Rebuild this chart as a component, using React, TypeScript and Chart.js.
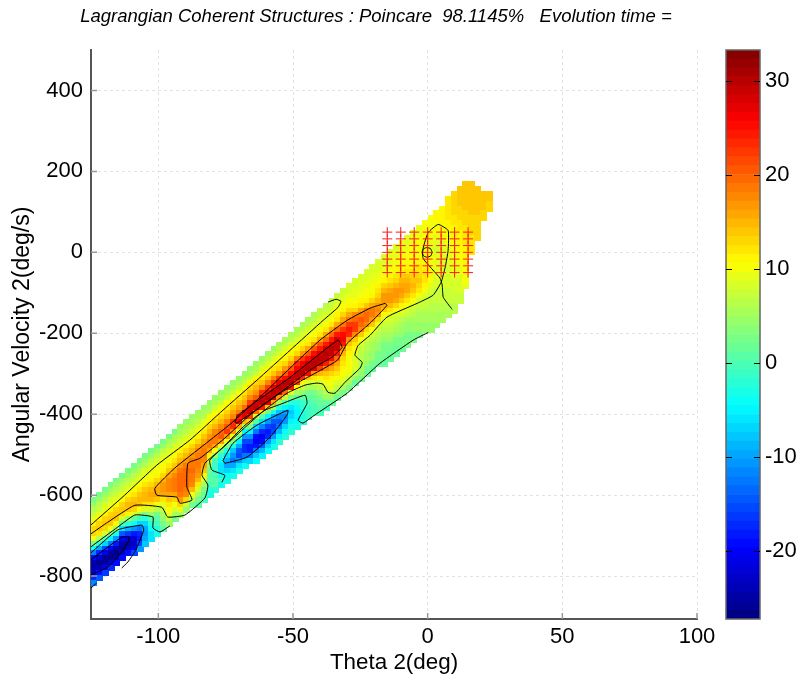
import React, { useEffect, useRef } from "react";
import { Chart, registerables } from "chart.js";

Chart.register(...registerables);

const chartTitle = "Lagrangian Coherent Structures : Poincare  98.1145%   Evolution time =";
const xAxisTitle = "Theta 2(deg)";
const yAxisTitle = "Angular Velocity 2(deg/s)";
const xTicks = [-100, -50, 0, 50, 100];
const yTicks = [-800, -600, -400, -200, 0, 200, 400];
const colorTicks = [-20, -10, 0, 10, 20, 30];
const colorMin = -27.2;
const colorMax = 33.3;
const rowStep = 12;

const thetaColumns = [-124, -121.8, -119.7, -117.5, -115.4, -113.2, -111, -108.9, -106.7, -104.6, -102.4, -100.2, -98.1, -95.9, -93.8, -91.6, -89.4, -87.3, -85.1, -83, -80.8, -78.6, -76.5, -74.3, -72.2, -70, -67.8, -65.7, -63.5, -61.4, -59.2, -57, -54.9, -52.7, -50.6, -48.4, -46.2, -44.1, -41.9, -39.8, -37.6, -35.4, -33.3, -31.1, -29, -26.8, -24.6, -22.5, -20.3, -18.2, -16, -13.8, -11.7, -9.5, -7.4, -5.2, -3, -0.9, 1.3, 3.4, 5.6, 7.8, 9.9, 12.1, 14.2, 16.4, 18.6, 20.7, 22.9];

const columnTopOmega = [-612, -600, -588, -576, -564, -552, -540, -528, -516, -504, -492, -480, -468, -456, -444, -432, -420, -408, -396, -384, -372, -360, -348, -336, -324, -312, -300, -288, -276, -264, -252, -240, -228, -216, -204, -192, -180, -168, -156, -144, -132, -120, -108, -96, -84, -72, -60, -48, -36, -24, -12, 0, 12, 24, 36, 48, 60, 72, 84, 96, 108, 132, 144, 156, 168, 168, 156, 144, 144];

// each column of the field, read from its top cell downwards
const fieldColumns = [
[3,4,6,7,9,11,13,13,10,3,-4,-12,-19,-24,-25,-22,-17,-12],
[3,4,6,7,9,11,13,14,12,6,-2,-10,-17,-23,-26,-24,-19,-14],
[3,4,6,8,9,11,13,14,13,8,1,-7,-15,-21,-26,-26,-21,-16],
[3,4,6,8,9,11,13,14,14,10,3,-5,-13,-20,-25,-27,-23,-17],
[3,4,6,7,9,10,13,14,14,11,5,-3,-11,-18,-24,-27,-25,-19],
[3,4,6,7,9,10,13,14,13,8,1,-6,-14,-20,-25,-26,-24,-19],
[3,4,6,7,9,11,13,15,14,11,5,-2,-9,-16,-22,-25,-24,-19],
[3,4,6,7,9,10,12,14,15,13,8,2,-4,-11,-18,-22,-23,-20,-15],
[3,4,6,8,9,10,12,14,15,14,10,5,-1,-7,-13,-17,-18,-15,-11],
[3,4,6,8,9,10,12,14,15,15,12,8,3,-2,-7,-10,-11,-10,-8],
[3,4,6,8,9,10,11,13,15,16,15,12,8,4,1,-2,-4,-6,-6],
[3,4,6,8,9,10,11,13,15,16,16,14,10,6,3,1,0,-2,-3],
[3,4,6,8,9,10,11,13,15,17,17,16,12,9,7,5,4,3,1],
[3,5,6,8,9,10,12,14,16,18,18,18,16,14,12,10,9,7,4],
[3,5,6,8,9,10,12,14,16,18,19,19,19,16,13,10,8,5,3],
[4,5,6,8,9,11,13,15,17,19,20,20,20,20,19,17,13,9,5],
[4,5,6,8,9,11,13,15,17,19,20,20,20,20,19,18,13,8,4],
[4,5,6,8,9,11,13,15,17,19,19,20,19,19,18,15,10,6,3],
[4,5,6,8,10,11,13,16,18,19,19,19,18,17,15,12,8,5,3,1],
[4,5,6,9,10,12,14,16,18,19,19,18,16,14,11,8,5,3,2,0],
[4,5,6,10,11,13,15,17,19,19,16,11,7,4,2,1,1,0,-2,-3],
[4,5,7,10,11,13,15,18,19,19,16,10,4,0,-1,-1,0,1,1,-2],
[4,5,7,10,11,13,15,18,20,21,17,9,3,-2,-4,-6,-6,-3,-1,-3],
[4,5,7,10,11,13,15,18,21,22,17,9,3,-2,-6,-9,-10,-7,-4,-3],
[4,5,7,10,12,14,16,18,22,23,17,9,3,-3,-8,-11,-13,-10,-6,-3],
[4,5,7,10,12,14,16,19,24,26,16,8,2,-5,-10,-14,-15,-11,-6,-3],
[4,5,7,10,12,14,16,20,27,27,15,5,-5,-11,-15,-17,-17,-13,-8,-4],
[4,5,7,11,13,15,18,22,28,29,22,12,3,-5,-11,-15,-18,-18,-13,-7],
[4,5,7,11,13,15,17,21,28,29,20,8,0,-7,-13,-19,-20,-18,-13,-8,-4],
[4,6,8,11,12,14,18,23,28,30,24,12,1,-6,-12,-17,-20,-19,-14,-9,-5],
[4,6,8,11,12,14,18,22,27,30,27,14,3,-5,-11,-15,-18,-17,-11,-7,-4],
[4,6,8,10,12,14,18,22,27,30,28,16,4,-3,-10,-14,-16,-15,-11,-6,-3],
[5,6,8,10,12,13,17,22,27,30,28,17,5,-2,-8,-12,-14,-13,-9,-5,-2],
[5,6,8,10,11,13,17,21,25,30,29,20,7,1,-5,-10,-12,-11,-7,-4,-2],
[5,6,8,10,11,13,17,21,25,29,30,24,9,3,-2,-6,-8,-7,-5,-3,-2],
[5,6,8,9,11,13,18,23,26,29,29,22,10,5,1,-2,-4,-5,-5,-4,-3],
[5,6,8,9,11,13,17,22,26,29,30,23,11,7,4,1,-1,-2,-3,-3,-2],
[5,6,8,9,11,12,16,21,25,29,30,25,14,8,5,3,1,0,-1,-1,-1],
[5,6,8,9,10,12,16,21,25,29,30,28,17,12,8,5,3,2,1,0,0],
[6,7,8,9,10,12,16,21,24,28,30,29,22,15,11,8,6,4,3,2,1,0],
[6,7,8,9,10,12,16,20,24,28,30,29,24,18,14,12,10,8,6,4,2,0],
[6,7,8,9,10,12,16,20,24,28,30,29,25,20,16,13,11,10,9,7,4,2],
[7,8,9,10,11,12,16,20,24,28,29,29,24,20,16,14,12,10,8,7,4,2],
[7,8,9,10,11,13,16,19,22,25,26,24,18,15,13,12,11,10,9,8,5,3],
[8,8,9,10,11,13,16,19,22,24,23,17,14,12,11,10,10,10,9,7,5,3],
[8,8,9,9,10,11,13,18,20,22,22,18,14,12,11,9,8,9,8,6,4,2],
[8,8,9,9,10,11,12,16,19,21,20,18,14,10,8,7,6,6,6,5,4,3],
[8,8,9,9,10,10,11,14,19,20,20,18,13,10,8,6,6,5,5,4,3,2],
[8,8,9,9,10,10,11,13,16,19,19,17,14,10,8,6,5,5,4,4,3,2],
[8,8,9,9,10,11,12,13,15,17,18,17,13,9,7,6,5,4,4,3,3,2],
[8,8,9,9,10,11,13,15,17,17,16,14,11,8,7,6,5,4,3,3,3,2,2],
[8,9,9,9,10,11,12,14,16,17,17,15,12,9,8,7,6,5,4,3,3,2,2],
[8,9,9,10,10,11,12,13,15,17,17,16,13,10,8,7,6,5,4,3,3,2,2],
[9,9,9,10,10,10,11,13,15,16,17,16,14,11,9,8,6,5,4,4,3,3,2],
[9,9,9,10,10,10,11,12,14,15,16,16,14,12,10,8,7,5,4,4,3,3,3],
[9,9,9,10,10,10,10,11,12,13,14,15,14,12,10,8,7,6,5,4,4,3,3],
[9,9,10,10,10,10,10,11,12,12,13,14,13,12,10,8,7,6,5,5,4,4,3],
[10,10,10,10,10,10,10,10,11,11,12,12,12,11,10,8,7,7,6,5,5,4,4],
[10,10,10,10,10,9,9,9,10,10,10,11,11,10,9,8,7,7,6,6,5,5,4,4],
[11,11,10,10,10,9,9,8,8,9,9,9,9,9,8,8,7,7,7,6,6,5,5,4],
[11,11,11,11,10,10,9,8,8,8,8,8,8,8,8,8,8,7,7,7,6,6,5,5],
[12,12,12,12,12,11,11,10,10,10,9,9,9,9,8,8,8,8,8,7,7,7,6,6,5],
[13,13,13,13,13,12,12,11,11,11,10,10,10,9,9,9,9,9,8,8,8,7,7,6,6],
[14,14,14,14,13,13,13,12,12,11,11,11,11,10,10,10,9,9,9,8,8,8,7,7],
[14,14,14,14,14,14,13,13,13,12,12,12,12,11,11,11,11,10,10,10,10,9],
[14,14,14,14,14,14,14,13,13,13,13,12,12,12,12],
[14,14,14,14,14,14,13,13,13,13,13],
[14,14,14,14,13,13],
[14,14,13,13],
];

const plusTheta = [-15, -10, -5, 0, 5, 10, 15];
const plusOmega = [50, 33.3, 16.7, 0, -16.7, -33.3, -50];

type Pt = [number, number];
const contourUpper: Pt[] = [[-125.1,-674],[-112.5,-600],[-100.6,-526],[-88.3,-464],[-76,-390],[-63.4,-316],[-51.1,-242],[-38.8,-168],[-33.3,-136],[-32.2,-121],[-34,-116],[-37,-123]];
const contourRidge: Pt[] = [[-15.8,-126],[-21.4,-138],[-29.9,-168],[-40,-217],[-51.1,-286],[-62.3,-358],[-73.4,-425],[-82.7,-474],[-93.9,-533],[-101.3,-583],[-100.6,-600],[-93.1,-605],[-92,-620],[-87.5,-612],[-89.4,-580],[-89,-521],[-84.6,-509],[-75.3,-459],[-66,-402],[-54.8,-348],[-48.5,-323],[-33.6,-267],[-29.9,-225],[-21.4,-175],[-15.1,-131],[-15.8,-126]];
const contourPeak: Pt[] = [[-71.6,-420],[-70.4,-402],[-51.1,-309],[-33.3,-217],[-31.8,-235],[-35.5,-259],[-42.6,-286],[-53.7,-341],[-70.8,-422],[-71.6,-420]];
const contourTrough: Pt[] = [[-76,-514],[-72.3,-472],[-63.4,-427],[-51.9,-390],[-52.2,-402],[-58.6,-457],[-67.1,-506],[-75.3,-521],[-76,-514]];
const contourLong: Pt[] = [[-125.1,-696],[-118.8,-667],[-108.7,-625],[-98.7,-630],[-96.5,-654],[-90.1,-649],[-82.7,-607],[-81.6,-575],[-83.8,-551],[-82.7,-521],[-77.1,-489],[-69.7,-444],[-61.5,-395],[-52.2,-348],[-45.5,-328],[-41.1,-323],[-38.8,-326],[-37,-346],[-34.4,-348],[-30.7,-321],[-25.1,-286],[-24.3,-272],[-27,-254],[-25.8,-230],[-21.4,-205],[-15.1,-160],[-3.9,-126],[2,-106],[5,-74],[6.5,-37],[7.6,5],[7.6,54],[3.9,69],[0.2,49],[-1.7,10],[-1.7,-15],[4.6,-64],[5.4,-81],[5.8,-111],[9.1,-141]];
const contourLeftA: Pt[] = [[-125.1,-728],[-115.1,-679],[-108.7,-649],[-102,-654],[-102,-681],[-99.4,-691],[-95.7,-676]];
const contourLeftB: Pt[] = [[-125.1,-743],[-115.1,-686],[-106.1,-674],[-105.4,-686],[-108.4,-736],[-111.3,-765],[-113.6,-780]];
const contourLeftC: Pt[] = [[-125.1,-760],[-113.6,-704],[-110.6,-704],[-112.5,-731],[-118.8,-778],[-125.1,-797]];
const contourLower: Pt[] = [[-76.4,-568],[-75.3,-551],[-80.1,-538],[-80.9,-514],[-75.3,-477],[-67.8,-427],[-60.4,-390],[-53.7,-373],[-45.5,-353],[-44.8,-373],[-48.1,-415],[-46.3,-422],[-41.1,-398],[-29.9,-348],[-17.7,-274],[-5.4,-217],[0.2,-198]];
const contourCorner: Pt[] = [[-125.1,-830],[-122.9,-817]];
const contourCircle: Pt[] = [[1.7,0],[1.1,9],[-0.2,12],[-1.5,9],[-2.1,0],[-1.5,-9],[-0.2,-12],[1.1,-9],[1.7,0]];
const contours = [contourUpper, contourRidge, contourPeak, contourTrough, contourLong, contourLeftA, contourLeftB, contourLeftC, contourLower, contourCorner, contourCircle];

const LEVELS = 64;
const FONT = "'Liberation Sans', Arial, sans-serif";

function clamp01(v: number) {
  return Math.max(0, Math.min(1, v));
}
function jetColor(i: number) {
  const t = (i + 0.5) / LEVELS;
  const r = clamp01(Math.min(4 * t - 1.5, -4 * t + 4.5));
  const g = clamp01(Math.min(4 * t - 0.5, -4 * t + 3.5));
  const b = clamp01(Math.min(4 * t + 0.5, -4 * t + 2.5));
  return `rgb(${Math.round(r * 255)},${Math.round(g * 255)},${Math.round(b * 255)})`;
}
function levelOf(v: number) {
  const i = Math.floor(((v - colorMin) / (colorMax - colorMin)) * LEVELS);
  return Math.max(0, Math.min(LEVELS - 1, i));
}

const innerTicks = {
  id: "innerTicks",
  afterDatasetsDraw(chart: any) {
    const { ctx, chartArea, scales } = chart;
    ctx.save();
    ctx.strokeStyle = "#999999";
    ctx.lineWidth = 1.5;
    ctx.beginPath();
    xTicks.forEach((v) => {
      const px = scales.x.getPixelForValue(v);
      ctx.moveTo(px, chartArea.bottom);
      ctx.lineTo(px, chartArea.bottom - 6);
    });
    yTicks.forEach((v) => {
      const py = scales.y.getPixelForValue(v);
      ctx.moveTo(chartArea.left, py);
      ctx.lineTo(chartArea.left + 6, py);
    });
    ctx.stroke();
    ctx.restore();
  },
};

const barFrame = {
  id: "barFrame",
  afterDraw(chart: any) {
    const { ctx, chartArea, scales } = chart;
    ctx.save();
    ctx.strokeStyle = "#666666";
    ctx.lineWidth = 1.5;
    ctx.strokeRect(chartArea.left, chartArea.top, chartArea.right - chartArea.left, chartArea.bottom - chartArea.top);
    ctx.strokeStyle = "#000000";
    ctx.lineWidth = 1;
    ctx.beginPath();
    colorTicks.forEach((v) => {
      const py = Math.round(scales.y.getPixelForValue(v)) + 0.5;
      ctx.moveTo(chartArea.left, py);
      ctx.lineTo(chartArea.left + 6, py);
      ctx.moveTo(chartArea.right - 6, py);
      ctx.lineTo(chartArea.right, py);
    });
    ctx.stroke();
    ctx.restore();
  },
};

export default function App() {
  const mainRef = useRef<HTMLCanvasElement>(null);
  const barRef = useRef<HTMLCanvasElement>(null);

  useEffect(() => {
    const sprites: HTMLCanvasElement[] = [];
    for (let i = 0; i < LEVELS; i++) {
      const c = document.createElement("canvas");
      c.width = 7;
      c.height = 6;
      const g = c.getContext("2d")!;
      g.fillStyle = jetColor(i);
      g.fillRect(0, 0, 7, 6);
      sprites.push(c);
    }

    const cells: { x: number; y: number; v: number }[] = [];
    fieldColumns.forEach((col, k) => {
      col.forEach((v, j) => {
        cells.push({ x: thetaColumns[k], y: columnTopOmega[k] - j * rowStep, v });
      });
    });
    const pluses: { x: number; y: number }[] = [];
    plusTheta.forEach((x) => plusOmega.forEach((y) => pluses.push({ x, y })));

    const main = new Chart(mainRef.current!, {
      type: "scatter",
      data: {
        datasets: [
          {
            label: "field",
            data: cells as any,
            order: 3,
            pointRadius: 3,
            pointHoverRadius: 3,
            pointStyle: (c: any) => sprites[levelOf(c.raw ? c.raw.v : 0)],
          } as any,
          ...contours.map((pts, i) => ({
            label: `contour ${i + 1}`,
            data: pts.map(([x, y]) => ({ x, y })),
            order: 2,
            showLine: true,
            tension: 0.15,
            borderColor: "#000000",
            borderWidth: 1,
            pointRadius: 0,
            fill: false,
          })),
          {
            label: "seeds",
            data: pluses,
            order: 1,
            pointStyle: "cross",
            pointRadius: 5,
            pointBorderColor: "#ff1a1a",
            pointBorderWidth: 1,
          } as any,
        ],
      },
      options: {
        responsive: false,
        animation: false,
        events: [],
        plugins: {
          legend: { display: false },
          tooltip: { enabled: false },
          title: {
            display: true,
            text: chartTitle,
            color: "#000000",
            font: { family: FONT, size: 18.5, style: "italic", weight: "normal", lineHeight: 1.2 },
            padding: { top: 6, bottom: 21.8 },
          },
        },
        scales: {
          x: {
            type: "linear",
            min: -125,
            max: 100,
            afterBuildTicks: (s: any) => {
              s.ticks = xTicks.map((value) => ({ value }));
            },
            afterFit: (s: any) => {
              s.height = 57;
            },
            grid: { color: "#e2e2e2", lineWidth: 1, drawTicks: false },
            border: { display: true, color: "#555555", width: 2, dash: [3, 3] },
            ticks: { color: "#000000", font: { family: FONT, size: 22 }, padding: 5, maxRotation: 0, autoSkip: false },
            title: {
              display: true,
              text: xAxisTitle,
              color: "#000000",
              font: { family: FONT, size: 22.4 },
              padding: { top: 0, bottom: 0 },
            },
          },
          y: {
            type: "linear",
            min: -906,
            max: 500,
            afterBuildTicks: (s: any) => {
              s.ticks = yTicks.map((value) => ({ value }));
            },
            afterFit: (s: any) => {
              s.width = 91;
            },
            grid: { color: "#e2e2e2", lineWidth: 1, drawTicks: false },
            border: { display: true, color: "#555555", width: 2, dash: [3, 3] },
            ticks: { color: "#000000", font: { family: FONT, size: 22 }, padding: 8, autoSkip: false },
            title: {
              display: true,
              text: yAxisTitle,
              color: "#000000",
              font: { family: FONT, size: 23 },
              padding: { top: 9, bottom: 0 },
            },
          },
          spacer: {
            type: "linear",
            axis: "y",
            position: "right",
            min: 0,
            max: 1,
            afterFit: (s: any) => {
              s.width = 55;
            },
            grid: { display: false },
            border: { display: false },
            ticks: { display: false },
          },
        },
      } as any,
      plugins: [innerTicks],
    });

    const barDatasets = [];
    for (let i = 0; i < LEVELS; i++) {
      const lo = colorMin + ((colorMax - colorMin) * i) / LEVELS;
      const hi = colorMin + ((colorMax - colorMin) * (i + 1)) / LEVELS;
      barDatasets.push({ label: `level ${i + 1}`, data: [[lo, hi]], backgroundColor: jetColor(i), borderWidth: 0, grouped: false, barPercentage: 1, categoryPercentage: 1 });
    }
    const bar = new Chart(barRef.current!, {
      type: "bar",
      data: { labels: ["scale"], datasets: barDatasets as any },
      options: {
        responsive: false,
        animation: false,
        events: [],
        layout: { padding: { left: 26, right: 0, top: 50, bottom: 57 } },
        plugins: { legend: { display: false }, tooltip: { enabled: false } },
        scales: {
          x: { display: false },
          y: {
            position: "right",
            min: colorMin,
            max: colorMax,
            afterBuildTicks: (s: any) => {
              s.ticks = colorTicks.map((value) => ({ value }));
            },
            afterFit: (s: any) => {
              s.width = 41;
            },
            grid: { display: false, drawTicks: false },
            border: { display: false },
            ticks: { color: "#000000", font: { family: FONT, size: 22 }, padding: 5, autoSkip: false },
          },
        },
      } as any,
      plugins: [barFrame],
    });

    return () => {
      main.destroy();
      bar.destroy();
    };
  }, []);

  return (
    <div style={{ position: "absolute", left: 0, top: 0, width: 801, height: 676, background: "#ffffff", overflow: "hidden" }}>
      <canvas ref={mainRef} width={752} height={676} style={{ position: "absolute", left: 0, top: 0 }} />
      <canvas ref={barRef} width={101} height={676} style={{ position: "absolute", left: 700, top: 0 }} />
    </div>
  );
}
